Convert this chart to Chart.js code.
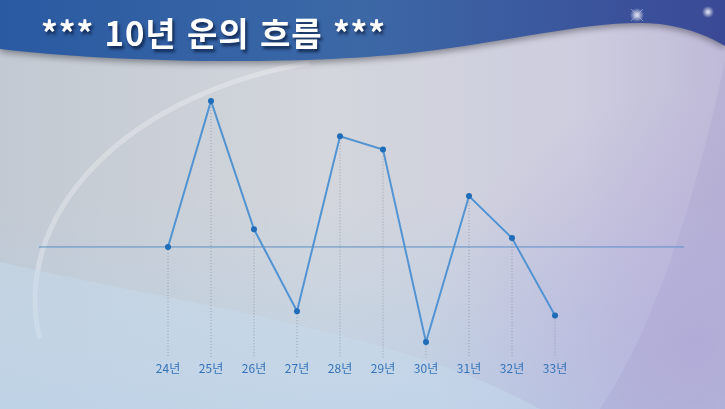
<!DOCTYPE html>
<html lang="ko">
<head>
<meta charset="utf-8">
<script src="https://cdn.jsdelivr.net/npm/chart.js@4"></script>
<style>
  html, body { margin: 0; padding: 0; }
  body { width: 725px; height: 409px; position: relative; overflow: hidden; }
  #wrap { position: absolute; left: 0; top: 0; width: 725px; height: 409px; }
  #title {
    position: absolute; left: 41px; top: 8px;
    font-family: 'Noto Sans CJK KR', sans-serif; font-weight: bold; font-size: 33px;
    letter-spacing: 1px;
    color: #fff; white-space: nowrap;
    text-shadow: 2px 3px 3px rgba(10, 25, 60, 0.75);
  }
</style>
</head>
<body>
<div id="wrap"><canvas id="fortune-chart" width="725" height="409"></canvas></div>
<div id="title">*** 10년 운의 흐름 ***</div>
<script>
// years on the x axis and the score for each one (0 = the middle line)
const years = ['24년', '25년', '26년', '27년', '28년', '29년', '30년', '31년', '32년', '33년'];
const scores = [0, 66, 8, -29, 50, 44, -43, 23, 4, -31];

// background: silver panel, blue banner, soft swooshes
const backdrop = {
    id: 'backdrop',
    beforeDraw(chart) {
        const ctx = chart.ctx;
        const w = chart.width, h = chart.height;
        ctx.save();

        let g = ctx.createLinearGradient(0, 0, w, 0);
        g.addColorStop(0, '#c2c9d2');
        g.addColorStop(0.45, '#d3d6dc');
        g.addColorStop(0.8, '#cdcddf');
        g.addColorStop(1, '#bfbad8');
        ctx.fillStyle = g;
        ctx.fillRect(0, 0, w, h);

        g = ctx.createLinearGradient(0, 200, 0, h);
        g.addColorStop(0, 'rgba(185,210,232,0)');
        g.addColorStop(1, 'rgba(180,205,230,0.7)');
        ctx.fillStyle = g;
        ctx.fillRect(0, 200, w, h - 200);

        g = ctx.createRadialGradient(690, 350, 10, 690, 350, 260);
        g.addColorStop(0, 'rgba(180,170,218,0.7)');
        g.addColorStop(1, 'rgba(180,170,218,0)');
        ctx.fillStyle = g;
        ctx.fillRect(0, 0, w, h);

        // darker lavender beyond the right curve
        ctx.fillStyle = 'rgba(165,155,205,0.25)';
        ctx.beginPath();
        ctx.moveTo(w, 60);
        ctx.bezierCurveTo(700, 180, 660, 320, 600, 409);
        ctx.lineTo(w, 409);
        ctx.closePath();
        ctx.fill();

        // soft arc on the left
        ctx.strokeStyle = 'rgba(255,255,255,0.28)';
        ctx.lineWidth = 5;
        ctx.beginPath();
        ctx.ellipse(400, 300, 365, 245, 0, Math.PI * 0.95, Math.PI * 1.42);
        ctx.stroke();

        // lighter swoosh bottom left
        ctx.fillStyle = 'rgba(200,220,238,0.45)';
        ctx.beginPath();
        ctx.moveTo(0, 262);
        ctx.bezierCurveTo(160, 300, 400, 330, 540, 409);
        ctx.lineTo(0, 409);
        ctx.closePath();
        ctx.fill();

        // banner
        ctx.shadowColor = 'rgba(60,60,70,0.5)';
        ctx.shadowBlur = 6;
        ctx.shadowOffsetY = 3;
        g = ctx.createLinearGradient(0, 0, w, 0);
        g.addColorStop(0, '#2a5aa2');
        g.addColorStop(0.5, '#3c68a6');
        g.addColorStop(1, '#3a4996');
        ctx.fillStyle = g;
        ctx.beginPath();
        ctx.moveTo(0, 0);
        ctx.lineTo(0, 49);
        ctx.bezierCurveTo(120, 63, 300, 66, 420, 52);
        ctx.bezierCurveTo(520, 40, 600, 18, 660, 24);
        ctx.bezierCurveTo(690, 28, 712, 38, w, 46);
        ctx.lineTo(w, 0);
        ctx.closePath();
        ctx.fill();
        ctx.shadowColor = 'transparent';

        // sparkles
        g = ctx.createRadialGradient(637, 15, 0, 637, 15, 7);
        g.addColorStop(0, 'rgba(255,255,255,0.9)');
        g.addColorStop(1, 'rgba(255,255,255,0)');
        ctx.fillStyle = g;
        ctx.fillRect(627, 5, 20, 20);
        ctx.strokeStyle = 'rgba(200,200,250,0.5)';
        ctx.lineWidth = 1;
        ctx.beginPath();
        ctx.moveTo(631, 9); ctx.lineTo(643, 21);
        ctx.moveTo(643, 9); ctx.lineTo(631, 21);
        ctx.stroke();
        g = ctx.createRadialGradient(708, 12, 0, 708, 12, 6);
        g.addColorStop(0, 'rgba(255,255,255,0.9)');
        g.addColorStop(1, 'rgba(255,255,255,0)');
        ctx.fillStyle = g;
        ctx.fillRect(700, 4, 16, 16);

        ctx.restore();
    }
};

// middle line and dotted drop lines from every point down to the axis
const guides = {
    id: 'guides',
    beforeDatasetsDraw(chart) {
        const ctx = chart.ctx;
        const area = chart.chartArea;
        const y0 = chart.scales.y.getPixelForValue(0);
        ctx.save();
        ctx.strokeStyle = '#5b8fc6';
        ctx.lineWidth = 1;
        ctx.beginPath();
        ctx.moveTo(area.left, y0);
        ctx.lineTo(area.right, y0);
        ctx.stroke();

        ctx.strokeStyle = 'rgba(120,130,145,0.6)';
        ctx.setLineDash([1, 2]);
        chart.getDatasetMeta(0).data.forEach(pt => {
            ctx.beginPath();
            ctx.moveTo(pt.x, pt.y);
            ctx.lineTo(pt.x, area.bottom);
            ctx.stroke();
        });
        ctx.restore();
    }
};

const ctx = document.getElementById('fortune-chart').getContext('2d');
new Chart(ctx, {
    type: 'line',
    data: {
        datasets: [{
            data: scores.map((s, i) => ({ x: i, y: s })),
            borderColor: '#5293d2',
            borderWidth: 2,
            tension: 0,
            pointRadius: 3,
            pointBackgroundColor: '#1f6cb8',
            pointBorderWidth: 0,
            fill: false
        }]
    },
    options: {
        responsive: false,
        animation: false,
        layout: {
            padding: { left: 39, right: 41, top: 81, bottom: 29 }
        },
        plugins: {
            legend: { display: false },
            tooltip: { enabled: false }
        },
        scales: {
            x: {
                type: 'linear',
                min: -3,
                max: 12,
                grid: { display: false, drawTicks: false },
                border: { display: false },
                ticks: {
                    stepSize: 1,
                    autoSkip: false,
                    maxRotation: 0,
                    padding: 4,
                    color: '#3473b8',
                    font: { family: "'Noto Sans CJK KR', sans-serif", size: 12 },
                    callback: function(value) {
                        return years[value] !== undefined ? years[value] : '';
                    }
                }
            },
            y: {
                display: false,
                min: -50,
                max: 75
            }
        }
    },
    plugins: [backdrop, guides]
});
</script>
</body>
</html>
